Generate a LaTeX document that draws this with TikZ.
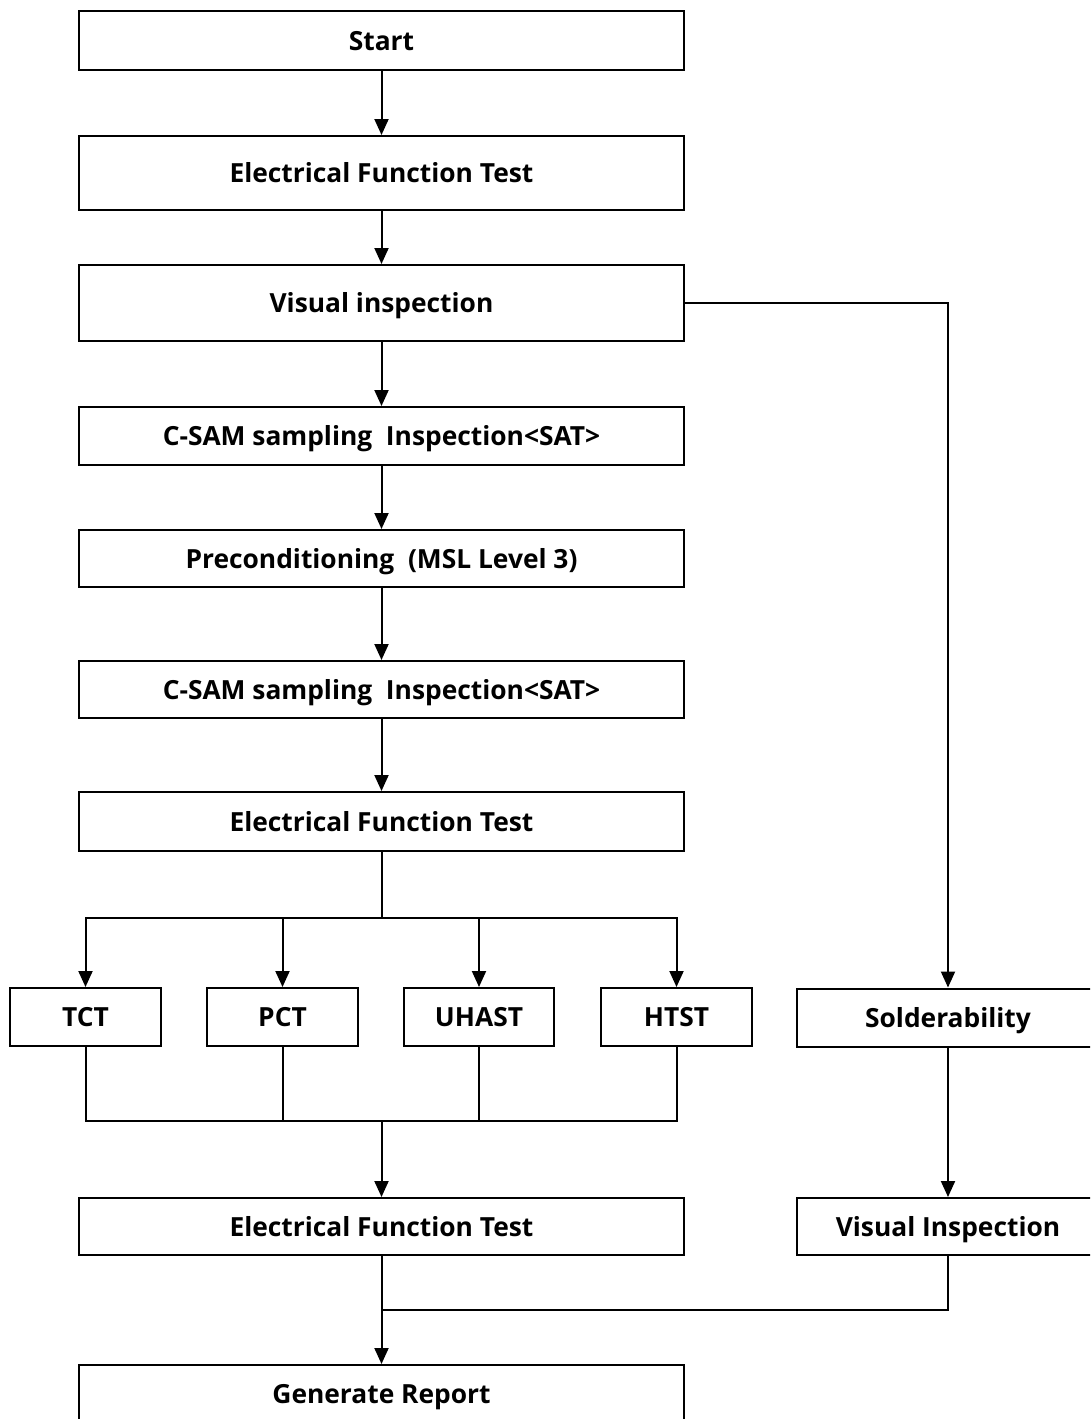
\documentclass[tikz,border=0pt]{standalone}
\usepackage{fontspec}
\setmainfont{Open Sans}
\usetikzlibrary{arrows.meta}
\begin{document}
\begin{tikzpicture}[x=0.02cm,y=-0.02cm,
  lbl/.style={font=\fontsize{15}{18}\selectfont\bfseries,text height=1.12em,text depth=0em},
  box/.style={lbl,draw=black,line width=0.04cm,rectangle,inner sep=0pt,fill=white},
  wide/.style={box,minimum width=12.1cm},
  small/.style={box,minimum width=3.02cm,minimum height=1.16cm},
  side/.style={box,minimum width=6.04cm,minimum height=1.16cm},
  conn/.style={line width=0.04cm},
  arr/.style={conn,-{Triangle[length=0.32cm,width=0.28cm]}}]
\clip (0,0) rectangle (1090,1419);
\useasboundingbox (0,0) rectangle (1090,1419);
\node[wide,minimum height=1.18cm] (start) at (381.5,40.5) {Start};
\node[wide,minimum height=1.48cm] (eft1) at (381.5,173) {Electrical Function Test};
\node[wide,minimum height=1.52cm] (vi) at (381.5,303) {Visual inspection};
\node[wide,minimum height=1.16cm] (csam1) at (381.5,436) {C-SAM sampling\ \ Inspection<SAT>};
\node[wide,minimum height=1.14cm] (pre) at (381.5,558.5) {Preconditioning\ \ (MSL Level 3)};
\node[wide,minimum height=1.14cm] (csam2) at (381.5,689.5) {C-SAM sampling\ \ Inspection<SAT>};
\node[wide,minimum height=1.18cm] (eft2) at (381.5,821.5) {Electrical Function Test};
\node[small] (tct) at (85.5,1017) {TCT};
\node[small] (pct) at (282.5,1017) {PCT};
\node[small] (uhast) at (479,1017) {UHAST};
\node[small] (htst) at (676.5,1017) {HTST};
\node[side] (sold) at (948,1017.5) {Solderability};
\node[wide,minimum height=1.14cm] (eft3) at (381.5,1226.5) {Electrical Function Test};
\node[side,minimum height=1.14cm] (vi2) at (948,1226.5) {Visual Inspection};
\node[wide,minimum height=1.3cm] (report) at (381.5,1397.5) {};
\node[lbl] (reporttext) at (381.5,1394) {Generate Report};
\coordinate (split) at (381.5,918);
\coordinate (join) at (381.5,1121);
\coordinate (merge) at (381.5,1310);
\draw[arr] (start) -- (eft1);
\draw[arr] (eft1) -- (vi);
\draw[arr] (vi) -- (csam1);
\draw[arr] (csam1) -- (pre);
\draw[arr] (pre) -- (csam2);
\draw[arr] (csam2) -- (eft2);
\draw[conn] (eft2) -- (split);
\draw[arr] (split) -| (tct.north);
\draw[arr] (split) -| (pct.north);
\draw[arr] (split) -| (uhast.north);
\draw[arr] (split) -| (htst.north);
\draw[arr] (vi.east) -| (sold.north);
\draw[conn] (tct.south) |- (join);
\draw[conn] (pct.south) |- (join);
\draw[conn] (uhast.south) |- (join);
\draw[conn] (htst.south) |- (join);
\draw[arr] (join) -- (eft3);
\draw[arr] (sold) -- (vi2);
\draw[conn] (vi2.south) |- (merge);
\draw[arr] (eft3) -- (report);
\end{tikzpicture}
\end{document}
